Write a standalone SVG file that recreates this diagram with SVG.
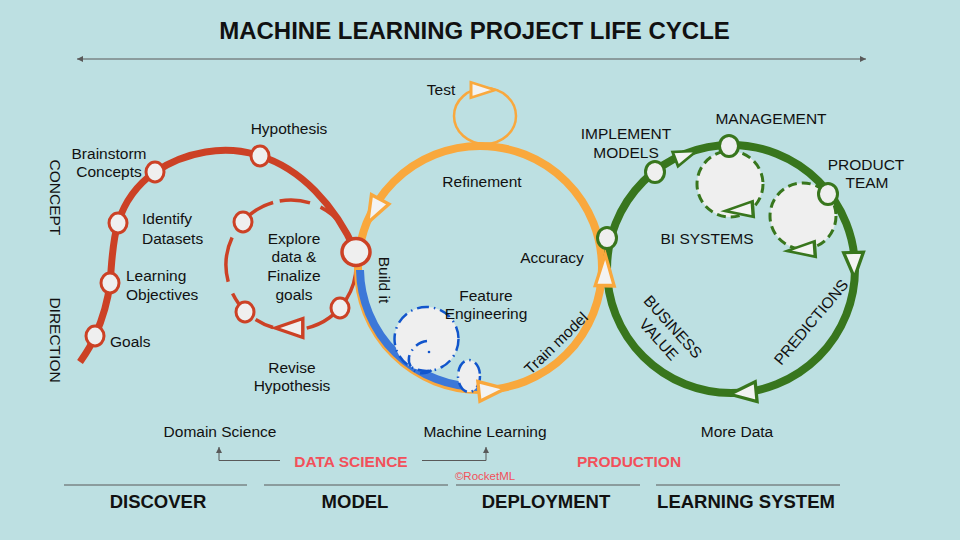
<svg xmlns="http://www.w3.org/2000/svg" width="960" height="540" viewBox="0 0 960 540">
<style>
text{font-family:"Liberation Sans",Arial,sans-serif;font-size:15.5px;fill:#111}
.c{text-anchor:middle}
.b{font-weight:bold}
.red{fill:#f2505a}
.gl{stroke:#595959;stroke-width:1;fill:none}
.rn{fill:#efefef;stroke:#cc4125;stroke-width:3}
.gn{fill:#efefef;stroke:#38761d;stroke-width:3}
.ot{fill:#f3f3f3;stroke:#f9a83d;stroke-width:3;stroke-linejoin:miter}
.gt{fill:#f3f3f3;stroke:#38761d;stroke-width:3}
.rt{fill:#efefef;stroke:#cc4125;stroke-width:3}
.rd{fill:none;stroke:#cc4125;stroke-width:3.5}
.bd{stroke:#1155cc;stroke-width:2.5;stroke-dasharray:12 5 1.5 5}
</style>
<defs>
<marker id="ah" markerUnits="userSpaceOnUse" markerWidth="7" markerHeight="6" refX="6" refY="3" orient="auto-start-reverse">
<path d="M0,0 L6,3 L0,6 Z" fill="#595959"/>
</marker>
<path id="tri" d="M12 0 L-12 -9 L-12 9 Z"/>
</defs>
<rect width="960" height="540" fill="#bde0e2"/>

<text class="c b" x="474.5" y="38.5" style="font-size:24px">MACHINE LEARNING PROJECT LIFE CYCLE</text>

<g id="connectors">
<line class="gl" x1="77" y1="59" x2="866" y2="59" marker-start="url(#ah)" marker-end="url(#ah)"/>
<polyline class="gl" points="280,460.5 219,460.5 219,447" marker-end="url(#ah)"/>
<polyline class="gl" points="422,460.5 486,460.5 486,447" marker-end="url(#ah)"/>
<line class="gl" x1="64" y1="485" x2="247" y2="485"/>
<line class="gl" x1="264" y1="485" x2="448" y2="485"/>
<line class="gl" x1="456" y1="485" x2="640" y2="485"/>
<line class="gl" x1="656" y1="485" x2="840" y2="485"/>
</g>

<g id="discover">
<path d="M80 362 C87 352 92 344 95 336 C103 318 108 300 110 283 C112 262 112 243 118 223 C125 200 138 184 155 172 C185 152 225 144 260 156 C300 168 335 205 356 252" fill="none" stroke="#cc4125" stroke-width="7"/>
<path class="rd" d="M320.5 207.1 A65 65 0 0 1 354.6 251.5"/>
<path class="rd" d="M279.7 201 A65 65 0 0 1 310 202.9"/>
<path class="rd" d="M242.7 221.5 A65 65 0 0 1 273.1 202.5"/>
<path class="rd" d="M228.2 281.8 A65 65 0 0 1 232.1 237.5"/>
<path class="rd" d="M245.8 311.8 A65 65 0 0 1 232.6 293.5"/>
<path class="rd" d="M273.1 327.5 A65 65 0 0 1 255.6 319.5"/>
<path class="rd" d="M354.6 251.5 A65 65 0 0 1 306.7 328.1"/>
<use href="#tri" class="rt" transform="translate(289,328) rotate(180) scale(1.15,1.05)"/>
<ellipse class="rn" cx="95" cy="336" rx="9" ry="10"/>
<ellipse class="rn" cx="110" cy="283" rx="9" ry="10"/>
<ellipse class="rn" cx="118" cy="223" rx="9" ry="10"/>
<ellipse class="rn" cx="155" cy="172" rx="9" ry="10"/>
<ellipse class="rn" cx="260" cy="156" rx="9" ry="10"/>
<ellipse class="rn" cx="243" cy="222" rx="9" ry="10"/>
<ellipse class="rn" cx="245" cy="312" rx="9" ry="10"/>
<ellipse class="rn" cx="340" cy="308" rx="9" ry="10"/>
<text class="c" transform="translate(55,197.5) rotate(90)" y="5.5">CONCEPT</text>
<text class="c" transform="translate(55,340) rotate(90)" y="5.5">DIRECTION</text>
<text class="c" x="109" y="158.5">Brainstorm</text>
<text class="c" x="109" y="176.5">Concepts</text>
<text x="142" y="224">Identify</text>
<text x="142" y="244">Datasets</text>
<text x="126" y="281">Learning</text>
<text x="126" y="299.5">Objectives</text>
<text x="110" y="346.5">Goals</text>
<text class="c" x="289" y="134">Hypothesis</text>
<text class="c" x="294" y="243.5">Explore</text>
<text class="c" x="294" y="262">data &amp;</text>
<text class="c" x="294" y="281">Finalize</text>
<text class="c" x="294" y="299.5">goals</text>
<text class="c" x="292" y="373">Revise</text>
<text class="c" x="292" y="391">Hypothesis</text>
</g>

<g id="model">
<ellipse cx="485" cy="116" rx="31" ry="28" fill="none" stroke="#f9a83d" stroke-width="2.5"/>
<circle cx="480" cy="268" r="122" fill="none" stroke="#f9a83d" stroke-width="8"/>
<path d="M360 270 A119 119 0 0 0 480 387" fill="none" stroke="#3c78d8" stroke-width="8"/>
<circle class="bd" cx="426.5" cy="339" r="32" fill="#efefef"/>
<path class="bd" d="M427 341 C418 342 411 349 409 357 C408 364 411 370 419 373 C425 374 430 372 433 369" fill="none"/>
<circle cx="429" cy="352" r="1.3" fill="#1155cc"/>
<circle cx="442" cy="367" r="1.3" fill="#1155cc"/>
<ellipse class="bd" cx="469" cy="376" rx="11" ry="16" fill="#efefef"/>
<use href="#tri" class="ot" transform="translate(492,390) rotate(-6) scale(1.1)"/>
<use href="#tri" class="ot" transform="translate(374,211) rotate(118) scale(1.1)"/>
<use href="#tri" class="ot" transform="translate(483,90) scale(1,0.85)"/>
<ellipse class="rn" cx="356" cy="252" rx="14" ry="13.5" style="stroke-width:3.5"/>
<text class="c" x="441" y="95">Test</text>
<text class="c" x="482" y="187">Refinement</text>
<text class="c" transform="translate(384.5,280) rotate(90)" y="5.5">Build it</text>
<text class="c" x="486" y="301">Feature</text>
<text class="c" x="486" y="319">Engineering</text>
<text class="c" x="552" y="263">Accuracy</text>
<text class="c" transform="translate(556,343) rotate(-44)" y="5.5">Train model</text>
</g>

<g id="production">
<circle cx="731" cy="269" r="124" fill="none" stroke="#38761d" stroke-width="8"/>
<circle cx="730" cy="184" r="33" fill="#efefef" stroke="#38761d" stroke-width="3" stroke-dasharray="9 5"/>
<circle cx="803" cy="216" r="33" fill="#efefef" stroke="#38761d" stroke-width="3" stroke-dasharray="9 5"/>
<use href="#tri" class="gt" transform="translate(739,210) rotate(176) scale(1.15,0.85)"/>
<use href="#tri" class="gt" transform="translate(801,250) rotate(176) scale(1.15,0.85)"/>
<use href="#tri" class="gt" transform="translate(686,155) rotate(-21) scale(0.95,0.85)"/>
<use href="#tri" class="gt" transform="translate(854,265) rotate(88) scale(1.05,1.1)"/>
<use href="#tri" class="gt" transform="translate(743,393) rotate(174.5) scale(1.1)"/>
<use href="#tri" class="ot" transform="translate(605,270) rotate(-89) scale(1.3,1.05)"/>
<ellipse class="gn" cx="607" cy="238" rx="9.5" ry="10.5"/>
<ellipse class="gn" cx="655" cy="172" rx="9.5" ry="10.5"/>
<ellipse class="gn" cx="729" cy="146" rx="9.5" ry="10.5"/>
<ellipse class="gn" cx="828" cy="194" rx="9.5" ry="10.5"/>
<text class="c" x="626" y="139">IMPLEMENT</text>
<text class="c" x="626" y="158">MODELS</text>
<text class="c" x="771" y="124">MANAGEMENT</text>
<text class="c" x="866" y="170">PRODUCT</text>
<text class="c" x="867" y="188">TEAM</text>
<text class="c" x="707" y="243.5">BI SYSTEMS</text>
<g transform="translate(666,333) rotate(48)">
<text class="c" y="-4">BUSINESS</text>
<text class="c" y="15">VALUE</text>
</g>
<text class="c" transform="translate(811,322) rotate(-50)" y="5.5">PREDICTIONS</text>
</g>

<g id="bottom">
<text class="c" x="220" y="436.5">Domain Science</text>
<text class="c" x="485" y="436.5">Machine Learning</text>
<text class="c" x="737" y="436.5">More Data</text>
<text class="c b red" x="351" y="467">DATA SCIENCE</text>
<text class="c b red" x="629" y="467">PRODUCTION</text>
<text class="c red" x="485" y="480" style="font-size:11.5px">©RocketML</text>
<text class="c b" x="158" y="508" style="font-size:18.5px">DISCOVER</text>
<text class="c b" x="355" y="508" style="font-size:18.5px">MODEL</text>
<text class="c b" x="546" y="508" style="font-size:18.5px">DEPLOYMENT</text>
<text class="c b" x="746" y="508" style="font-size:18.5px">LEARNING SYSTEM</text>
</g>
</svg>
